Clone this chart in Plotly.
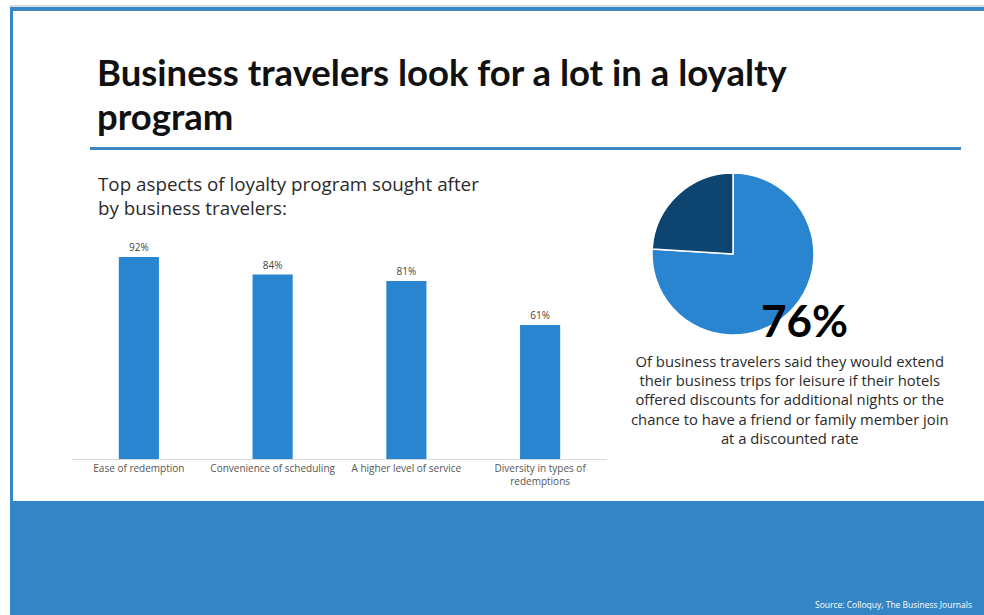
import plotly.graph_objects as go

W, H = 984, 615

title_lines = ["Business travelers look for a lot in a loyalty", "program"]
subtitle_text = "Top aspects of loyalty program sought after<br>by business travelers:"
categories = ["Ease of redemption", "Convenience of scheduling",
              "A higher level of service", "Diversity in types of<br>redemptions"]
values = [92, 84, 81, 61]

pie_labels = ["Would extend trip", "Other"]
pie_values = [76, 24]
pie_headline = "76%"
pie_caption = ("Of business travelers said they would extend<br>"
               "their business trips for leisure if their hotels<br>"
               "offered discounts for additional nights or the<br>"
               "chance to have a friend or family member join<br>"
               "at a discounted rate")
source_text = "Source: Colloquy, The Business Journals"

BAR_BLUE = "#2A85D0"
DARK_BLUE = "#0E4470"
BAND_BLUE = "#3385C5"
BORDER_BLUE = "#3A87C8"


def px_x(x):
    return x / W


def px_y(y):
    return 1 - y / H


fig = go.Figure()

fig.add_trace(go.Bar(
    x=categories, y=values,
    marker=dict(color=BAR_BLUE, line=dict(width=0)),
    texttemplate="%{y}%", textposition="outside",
    textfont=dict(family="Open Sans", size=10, color="#444444"),
    cliponaxis=False, showlegend=False, hoverinfo="x+y",
))

fig.add_trace(go.Pie(
    labels=pie_labels, values=pie_values,
    marker=dict(colors=[BAR_BLUE, DARK_BLUE], line=dict(color="white", width=1.5)),
    sort=False, direction="clockwise", rotation=0,
    textinfo="none", showlegend=False,
    domain=dict(x=[px_x(652), px_x(814)], y=[px_y(336), px_y(172)]),
))

shapes = [
    dict(type="rect", xref="paper", yref="paper", x0=px_x(10), x1=1, y0=px_y(7), y1=px_y(5),
         fillcolor="#D8DDE2", line=dict(width=0), layer="below"),
    dict(type="rect", xref="paper", yref="paper", x0=px_x(10), x1=1, y0=px_y(11), y1=px_y(7),
         fillcolor=BORDER_BLUE, line=dict(width=0), layer="below"),
    dict(type="rect", xref="paper", yref="paper", x0=px_x(10), x1=px_x(13), y0=0, y1=px_y(7),
         fillcolor=BORDER_BLUE, line=dict(width=0), layer="below"),
    dict(type="rect", xref="paper", yref="paper", x0=px_x(90), x1=px_x(961), y0=px_y(150), y1=px_y(147),
         fillcolor=BORDER_BLUE, line=dict(width=0), layer="below"),
    dict(type="rect", xref="paper", yref="paper", x0=px_x(10), x1=1, y0=0, y1=px_y(501),
         fillcolor=BAND_BLUE, line=dict(width=0), layer="below"),
]

annotations = []
for line, yc in zip(title_lines, [72, 116]):
    annotations.append(dict(
        text="<b>" + line + "</b>", xref="paper", yref="paper",
        x=px_x(95), y=px_y(yc), xanchor="left", yanchor="middle", align="left",
        showarrow=False, font=dict(family="Lato", size=36.5, color="#111111")))
annotations += [
    dict(text=subtitle_text, xref="paper", yref="paper",
         x=px_x(96), y=px_y(196), xanchor="left", yanchor="middle", align="left",
         showarrow=False, font=dict(family="Open Sans", size=18.8, color="#2a2a2a")),
    dict(text="<b>" + pie_headline + "</b>", xref="paper", yref="paper",
         x=px_x(804), y=px_y(320), xanchor="center", yanchor="middle",
         showarrow=False, font=dict(family="Lato", size=44, color="#000000")),
    dict(text=pie_caption, xref="paper", yref="paper",
         x=px_x(790), y=px_y(349), xanchor="center", yanchor="top", align="center",
         showarrow=False, font=dict(family="Open Sans", size=14.8, color="#2a2a2a")),
    dict(text=source_text, xref="paper", yref="paper",
         x=px_x(974), y=px_y(612), xanchor="right", yanchor="bottom", align="right",
         showarrow=False, font=dict(family="Open Sans", size=8.5, color="#ffffff")),
]

fig.update_layout(
    width=W, height=H,
    margin=dict(l=0, r=0, t=0, b=0),
    paper_bgcolor="white", plot_bgcolor="white",
    bargap=0.7,
    shapes=shapes, annotations=annotations,
    xaxis=dict(domain=[px_x(72), px_x(607)], showgrid=False, showline=True,
               linecolor="#D9D9D9", linewidth=1, ticks="",
               tickfont=dict(family="Open Sans", size=10, color="#555555")),
    yaxis=dict(domain=[px_y(459), px_y(239.4)], range=[0, 100], visible=False),
)

fig.write_html("out.html", config={"displayModeBar": False},
               post_script="document.body.style.margin='0';document.body.style.overflow='hidden';")
